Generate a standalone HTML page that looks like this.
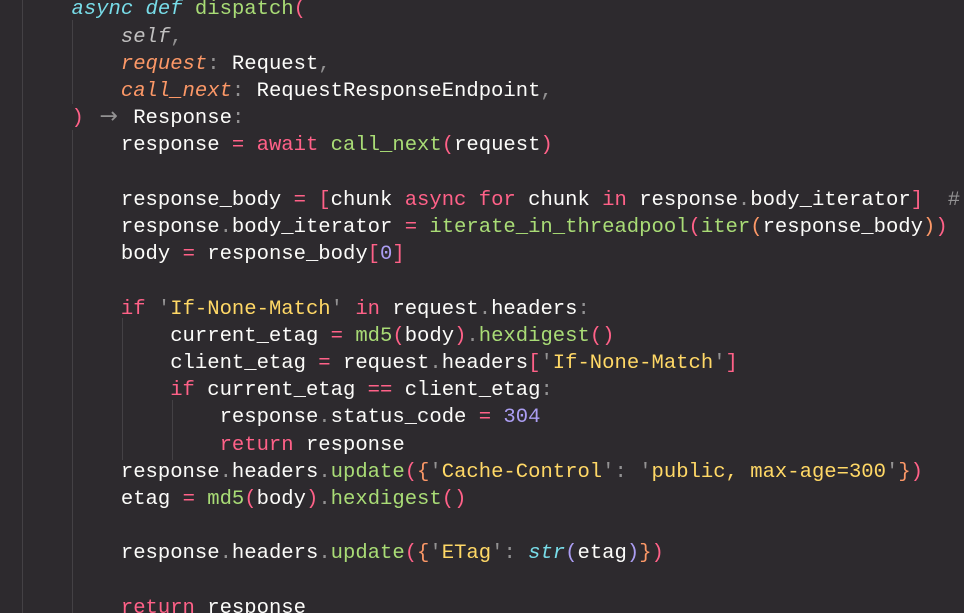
<!DOCTYPE html>
<html><head><meta charset="utf-8"><style>
html,body{margin:0;padding:0;background:#2d2a2e;width:964px;height:613px;overflow:hidden;position:relative}
pre{position:absolute;left:71.5px;top:-3.6px;margin:0;font-family:"Liberation Mono",monospace;font-size:20.57px;line-height:27.2px;color:#fcfcfa;white-space:pre}
.k{color:#ff6188}.f{color:#a9dc76}.s{color:#ffd866}.o{color:#fc9867}.i{font-style:italic}
.b{color:#78dce8}.p{color:#ab9df2}.g{color:#939293}.pk{color:#ff6188}.w{color:#c1c0c0}
.ar{display:inline-block;width:24.7px;text-align:center;color:#939293;font-family:"DejaVu Sans",sans-serif;font-size:22px;line-height:20px}
.gl{position:absolute;width:1px;background:#444145}
</style></head><body>
<div class="gl" style="left:22px;top:0;height:613px"></div>
<div class="gl" style="left:72px;top:20px;height:84px"></div>
<div class="gl" style="left:72px;top:130px;height:483px"></div>
<div class="gl" style="left:122px;top:318px;height:142px"></div>
<div class="gl" style="left:172px;top:400px;height:60px"></div>
<pre><span class="b i">async</span> <span class="b i">def</span> <span class="f">dispatch</span><span class="pk">(</span>
    <span class="w i">self</span><span class="g">,</span>
    <span class="o i">request</span><span class="g">:</span> Request<span class="g">,</span>
    <span class="o i">call_next</span><span class="g">:</span> RequestResponseEndpoint<span class="g">,</span>
<span class="pk">)</span> <span class="ar">→</span> Response<span class="g">:</span>
    response <span class="k">=</span> <span class="k">await</span> <span class="f">call_next</span><span class="pk">(</span>request<span class="pk">)</span>

    response_body <span class="k">=</span> <span class="pk">[</span>chunk <span class="k">async</span> <span class="k">for</span> chunk <span class="k">in</span> response<span class="g">.</span>body_iterator<span class="pk">]</span>  <span class="g">#</span>
    response<span class="g">.</span>body_iterator <span class="k">=</span> <span class="f">iterate_in_threadpool</span><span class="pk">(</span><span class="f">iter</span><span class="o">(</span>response_body<span class="o">)</span><span class="pk">)</span>
    body <span class="k">=</span> response_body<span class="pk">[</span><span class="p">0</span><span class="pk">]</span>

    <span class="k">if</span> <span class="g">'</span><span class="s">If-None-Match</span><span class="g">'</span> <span class="k">in</span> request<span class="g">.</span>headers<span class="g">:</span>
        current_etag <span class="k">=</span> <span class="f">md5</span><span class="pk">(</span>body<span class="pk">)</span><span class="g">.</span><span class="f">hexdigest</span><span class="pk">()</span>
        client_etag <span class="k">=</span> request<span class="g">.</span>headers<span class="pk">[</span><span class="g">'</span><span class="s">If-None-Match</span><span class="g">'</span><span class="pk">]</span>
        <span class="k">if</span> current_etag <span class="k">==</span> client_etag<span class="g">:</span>
            response<span class="g">.</span>status_code <span class="k">=</span> <span class="p">304</span>
            <span class="k">return</span> response
    response<span class="g">.</span>headers<span class="g">.</span><span class="f">update</span><span class="pk">(</span><span class="o">{</span><span class="g">'</span><span class="s">Cache-Control</span><span class="g">'</span><span class="g">:</span> <span class="g">'</span><span class="s">public, max-age=300</span><span class="g">'</span><span class="o">}</span><span class="pk">)</span>
    etag <span class="k">=</span> <span class="f">md5</span><span class="pk">(</span>body<span class="pk">)</span><span class="g">.</span><span class="f">hexdigest</span><span class="pk">()</span>

    response<span class="g">.</span>headers<span class="g">.</span><span class="f">update</span><span class="pk">(</span><span class="o">{</span><span class="g">'</span><span class="s">ETag</span><span class="g">'</span><span class="g">:</span> <span class="b i">str</span><span class="p">(</span>etag<span class="p">)</span><span class="o">}</span><span class="pk">)</span>

    <span class="k">return</span> response
</pre>
</body></html>
